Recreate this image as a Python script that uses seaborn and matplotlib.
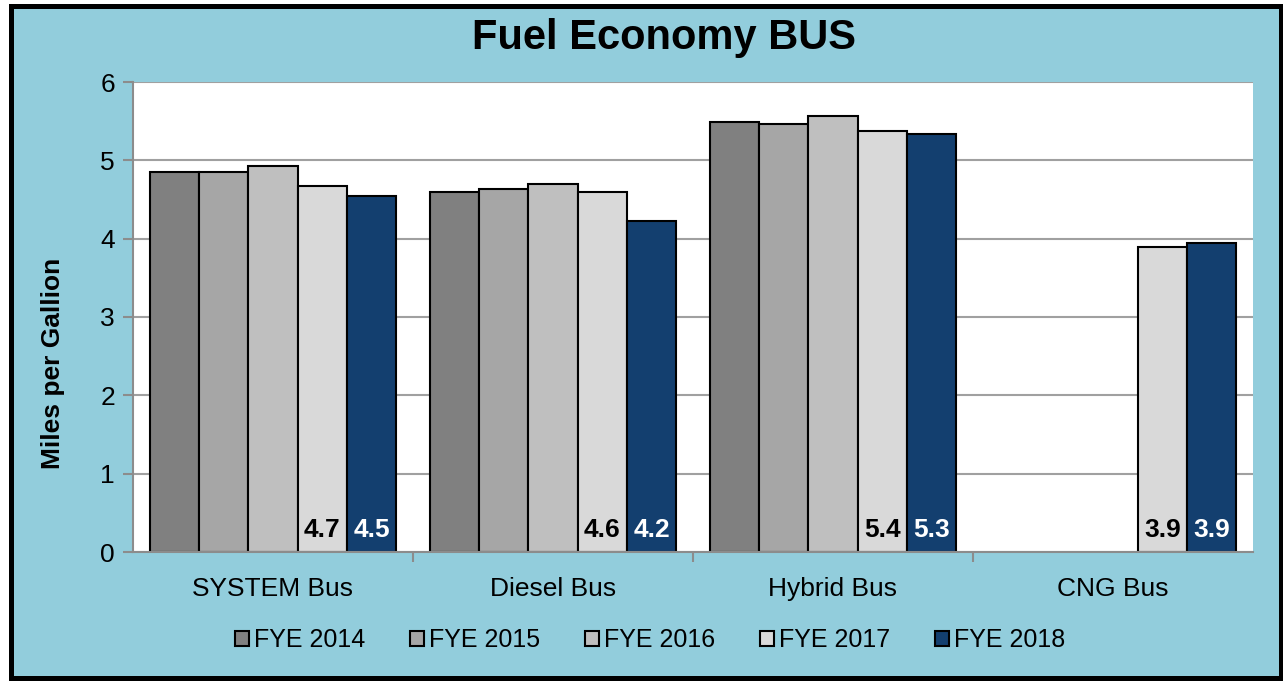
import numpy as np
import pandas as pd
import matplotlib
matplotlib.use('Agg')
import matplotlib.pyplot as plt
import seaborn as sns
from matplotlib.patches import Rectangle

categorias = ['SYSTEM Bus', 'Diesel Bus', 'Hybrid Bus', 'CNG Bus']
anios = ['FYE 2014', 'FYE 2015', 'FYE 2016', 'FYE 2017', 'FYE 2018']
fye2014 = [4.85, 4.60, 5.49, np.nan]
fye2015 = [4.85, 4.63, 5.46, np.nan]
fye2016 = [4.93, 4.70, 5.57, np.nan]
fye2017 = [4.67, 4.60, 5.38, 3.89]
fye2018 = [4.54, 4.22, 5.33, 3.94]
colores = ['#808080', '#A6A6A6', '#BFBFBF', '#D9D9D9', '#133F6F']

filas = []
for anio, vals in zip(anios, [fye2014, fye2015, fye2016, fye2017, fye2018]):
    for cat, v in zip(categorias, vals):
        filas.append({'cat': cat, 'anio': anio, 'mpg': v})
datos = pd.DataFrame(filas)

sns.set_theme(style='white')
plt.rcParams['font.family'] = ['Liberation Sans', 'DejaVu Sans']
plt.rcParams['text.color'] = 'black'
plt.rcParams['axes.labelcolor'] = 'black'
plt.rcParams['xtick.labelcolor'] = 'black'
plt.rcParams['ytick.labelcolor'] = 'black'

fig = plt.figure(figsize=(12.83, 6.81), dpi=100)
fig.patch.set_facecolor('white')
W, H = 1283, 681
fig.patches.append(Rectangle((10.5 / W, 1 - 677.5 / H), 1270 / W, 672 / H,
                             transform=fig.transFigure, facecolor='#92CDDC',
                             edgecolor='black', linewidth=3.6, zorder=-10))

ax = fig.add_axes([133 / W, 1 - 552 / H, 1120 / W, 470 / H])
ax.set_facecolor('white')
sns.barplot(data=datos, x='cat', y='mpg', hue='anio', hue_order=anios,
            order=categorias, palette=colores, width=0.88, ax=ax,
            edgecolor='black', linewidth=1.5, saturation=1, legend=False)

ax.set_ylim(0, 6)
ax.set_xlim(-0.5, 3.5)
ax.set_yticks(range(7))
ax.yaxis.grid(True, color='#A0A0A0', linewidth=1.5)
ax.set_axisbelow(True)
for lado in ['top', 'right']:
    ax.spines[lado].set_visible(False)
for lado in ['left', 'bottom']:
    ax.spines[lado].set_color('#8C8C8C')
    ax.spines[lado].set_linewidth(1.5)
ax.tick_params(axis='y', which='major', length=7, width=1.5, color='#8C8C8C',
               labelcolor='black', left=True, labelsize=19, pad=6)
ax.set_xticks([0.5, 1.5, 2.5], minor=True)
ax.tick_params(axis='x', which='minor', length=7, width=1.5, color='#8C8C8C', bottom=True)
ax.tick_params(axis='x', which='major', length=0, labelsize=19, pad=18, labelcolor='black')
ax.set_xlabel('')
ax.set_ylabel('Miles per Gallion', fontsize=19, fontweight='bold', color='black')
ax.yaxis.set_label_coords(-(133 - 65) / 1120, (552 - 363) / 470)

# etiquetas dentro de las barras 2017 y 2018
for cont, col in zip(ax.containers[3:5], ['black', 'white']):
    for barra in cont:
        h = barra.get_height()
        if np.isnan(h):
            continue
        ax.text(barra.get_x() + barra.get_width() / 2, 0.19, f'{h:.1f}',
                ha='center', va='baseline', color=col, fontsize=19, fontweight='bold')

fig.text(664 / W, 1 - 38 / H, 'Fuel Economy BUS', ha='center', va='center',
         fontsize=30, fontweight='bold', color='black')

manijas = [Rectangle((0, 0), 1, 1, facecolor=c, edgecolor='black', linewidth=1.5) for c in colores]
fig.legend(manijas, anios, loc='center', bbox_to_anchor=(650 / W, 1 - 640 / H), ncol=5,
           frameon=False, fontsize=18, handlelength=0.55, handleheight=0.55,
           handletextpad=0.2, columnspacing=1.8, labelcolor='black')

fig.savefig('out.png', dpi=100)
